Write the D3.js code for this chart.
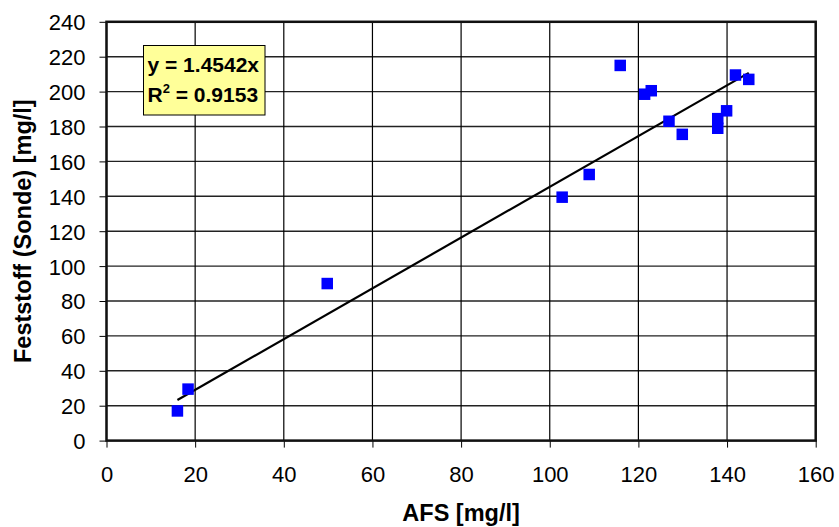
<!DOCTYPE html>
<html>
<head>
  <meta charset="UTF-8">
  <style>
    body { margin: 0; background: #fff; }
    svg { display: block; font-family: Arial, "Liberation Sans", sans-serif; }
  </style>
</head>
<body>
<svg></svg>
<script src="https://d3js.org/d3.v7.min.js"></script>
<script>

let width = 839, height = 527;

// AFS vs. Feststoff (Sonde)
let afs      = [16, 18.4, 49.8, 102.8, 108.9, 115.9, 121.4, 122.9, 126.9, 129.9, 137.9, 137.9, 139.9, 141.9, 144.9];
let feststoff = [17, 29.5, 90, 139.5, 152.5, 215, 198.5, 200.5, 183, 175.5, 179, 184.5, 189, 209.5, 207];
let slope = 1.4542;
let r2 = 0.9153;
let xTicks = [0, 20, 40, 60, 80, 100, 120, 140, 160];
let yTicks = [0, 20, 40, 60, 80, 100, 120, 140, 160, 180, 200, 220, 240];

let points = afs.map((a, i) => ({ x: a, y: feststoff[i] }));

let margin = { left: 106.5, right: 839 - 815.7, top: 21.8, bottom: 527 - 440.6 };

let svg = d3.select("svg")
    .attr("width", width)
    .attr("height", height);

let x = d3.scaleLinear().domain([0, 160]).range([margin.left, width - margin.right]);
let y = d3.scaleLinear().domain([0, 240]).range([height - margin.bottom, margin.top]);

// grid
svg.append("g")
  .selectAll("line")
  .data(yTicks)
  .enter()
  .append("line")
    .attr("x1", x(0)).attr("x2", x(160))
    .attr("y1", d => y(d)).attr("y2", d => y(d))
    .attr("stroke", "#222")
    .attr("stroke-width", 1.4);

svg.append("g")
  .selectAll("line")
  .data(xTicks)
  .enter()
  .append("line")
    .attr("x1", d => x(d)).attr("x2", d => x(d))
    .attr("y1", y(0)).attr("y2", y(240))
    .attr("stroke", "#000")
    .attr("stroke-width", 1.2);

// axes
let xAxis = svg.append("g")
    .attr("transform", "translate(0," + y(0) + ")")
    .call(d3.axisBottom(x).tickValues(xTicks).tickSize(7).tickPadding(19).tickFormat(d3.format("d")));

let yAxis = svg.append("g")
    .attr("transform", "translate(" + x(0) + ",0)")
    .call(d3.axisLeft(y).tickValues(yTicks).tickSize(7).tickPadding(14).tickFormat(d3.format("d")));

[xAxis, yAxis].forEach(a => {
  a.select(".domain").remove();
  a.selectAll("line").attr("stroke", "#000");
  a.selectAll("text")
    .attr("fill", "#000")
    .style("font-size", "22px")
    .style("font-family", "Arial, 'Liberation Sans', sans-serif");
});
yAxis.selectAll("text").attr("dy", "0.36em");

// plot border
svg.append("rect")
    .attr("x", x(0)).attr("y", y(240))
    .attr("width", x(160) - x(0)).attr("height", y(0) - y(240))
    .attr("fill", "none")
    .attr("stroke", "#111")
    .attr("stroke-width", 2.5);

// trend line through origin
let xs = d3.extent(afs);
svg.append("line")
    .attr("x1", x(xs[0])).attr("y1", y(slope * xs[0]))
    .attr("x2", x(xs[1])).attr("y2", y(slope * xs[1]))
    .attr("stroke", "#000")
    .attr("stroke-width", 2.2);

// markers
let sq = 11.5;
svg.append("g")
  .selectAll("rect")
  .data(points)
  .enter()
  .append("rect")
    .attr("x", d => x(d.x) - sq / 2)
    .attr("y", d => y(d.y) - sq / 2)
    .attr("width", sq).attr("height", sq)
    .attr("fill", "#0000ff");

// equation box
let box = svg.append("g");
box.append("rect")
    .attr("x", 143.5).attr("y", 45.5)
    .attr("width", 121.5).attr("height", 69.5)
    .attr("fill", "#ffff99")
    .attr("stroke", "#000")
    .attr("stroke-width", 1);
box.append("text")
    .attr("x", 147.5).attr("y", 72)
    .style("font-size", "21px").style("font-weight", "bold")
    .text("y = " + slope + "x");
let rt = box.append("text")
    .attr("x", 147.5).attr("y", 102)
    .style("font-size", "21px").style("font-weight", "bold");
rt.append("tspan").text("R");
rt.append("tspan").attr("dy", -9).style("font-size", "13px").text("2");
rt.append("tspan").attr("dy", 9).text(" = " + r2);

// axis titles
svg.append("text")
    .attr("x", (x(0) + x(160)) / 2)
    .attr("y", 521)
    .attr("text-anchor", "middle")
    .style("font-size", "23.5px").style("font-weight", "bold")
    .text("AFS [mg/l]");

svg.append("text")
    .attr("transform", "translate(31," + (y(0) + y(240)) / 2 + ") rotate(-90)")
    .attr("text-anchor", "middle")
    .style("font-size", "23.5px").style("font-weight", "bold")
    .text("Feststoff (Sonde) [mg/l]");

</script>
</body>
</html>
